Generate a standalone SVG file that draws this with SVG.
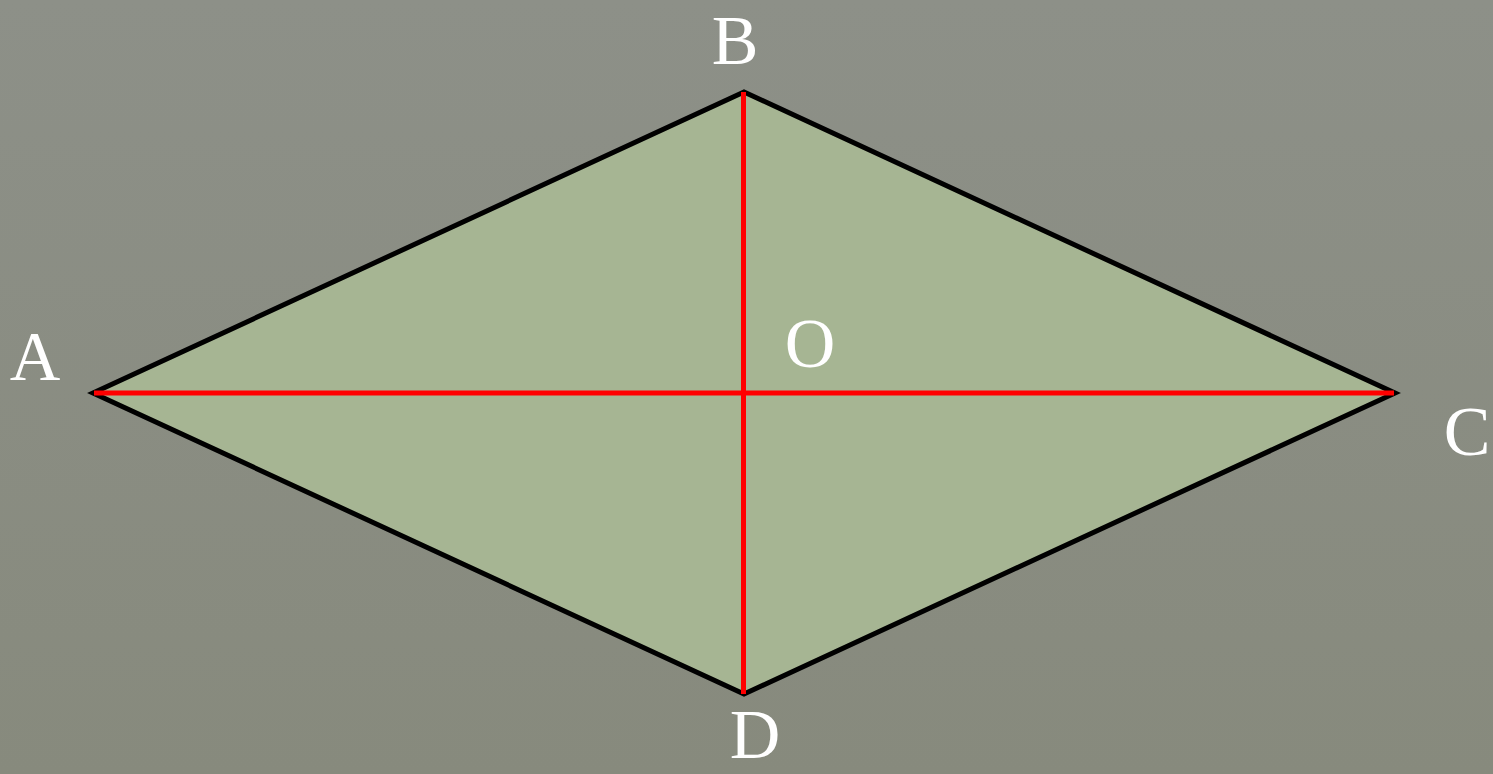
<svg xmlns="http://www.w3.org/2000/svg" width="1493" height="774" viewBox="0 0 1493 774">
<style>
.lbl{font-family:"Liberation Serif","Times New Roman",serif;font-size:70px;fill:#ffffff;text-anchor:middle}
.diag{stroke:#ff0000;stroke-width:5;fill:none}
</style>
<defs>
<linearGradient id="bg" x1="0" y1="0" x2="0" y2="1">
<stop offset="0" stop-color="#8d9088"/>
<stop offset="1" stop-color="#878a7d"/>
</linearGradient>
</defs>
<rect width="1493" height="774" fill="url(#bg)"/>
<g id="rhombus">
<polygon points="93,393 744,92 1395,393 744,694" fill="#a6b593" stroke="#000000" stroke-width="5" stroke-linejoin="miter" stroke-miterlimit="10"/>
</g>
<g id="connectors">
<line class="diag" x1="94" y1="393" x2="1394" y2="393"/>
<line class="diag" x1="743.5" y1="92" x2="743.5" y2="694"/>
</g>
<g id="label-A"><text class="lbl" x="35" y="380">A</text></g>
<g id="label-B"><text class="lbl" x="735" y="64">B</text></g>
<g id="label-O"><text class="lbl" x="810" y="367">O</text></g>
<g id="label-C"><text class="lbl" x="1467" y="455">C</text></g>
<g id="label-D"><text class="lbl" x="755" y="758">D</text></g>
</svg>
